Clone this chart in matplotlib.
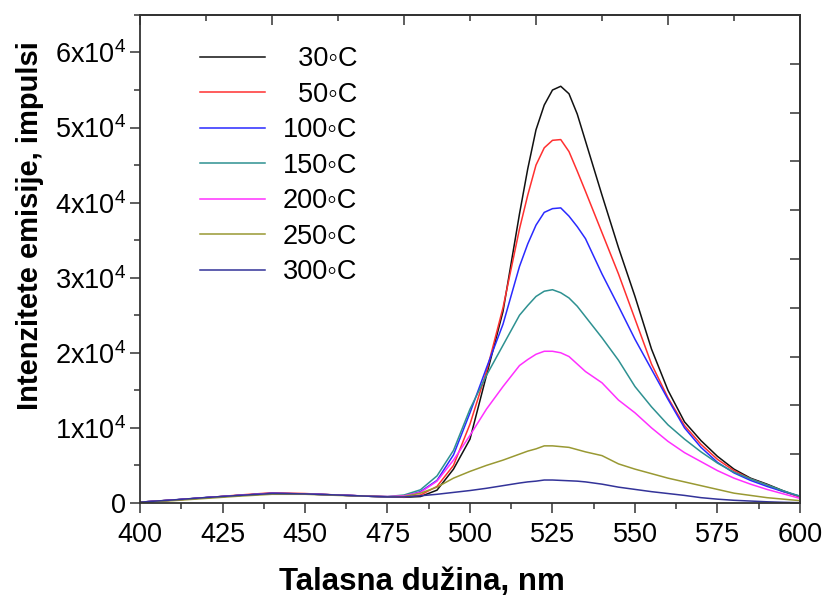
import matplotlib
matplotlib.use("Agg")
import matplotlib.pyplot as plt
from matplotlib.ticker import MultipleLocator, FuncFormatter

plt.rcParams['font.family'] = ['Liberation Sans', 'DejaVu Sans']
plt.rcParams['mathtext.default'] = 'regular'

# wavelength grid, nm
wl = [400, 410, 420, 430, 440, 450, 460, 470, 475, 480, 485, 490, 495, 500,
      505, 510, 515, 517.5, 520, 522.5, 525, 527.5, 530, 532.5, 535, 540,
      545, 550, 555, 560, 565, 570, 575, 580, 585, 590, 595, 600]

t30 = [100, 380, 700, 1000, 1250, 1200, 1050, 880, 820, 750, 850, 1700, 4500, 8500,
       17000, 25500, 38500, 44500, 49700, 53000, 55000, 55500, 54500, 51800, 48200, 41000,
       34000, 27500, 20500, 15000, 10800, 8300, 6200, 4500, 3300, 2500, 1600, 800]
t50 = [100, 380, 700, 1050, 1350, 1250, 1050, 880, 800, 780, 1050, 2200, 5000, 10500,
       17500, 26000, 36500, 41000, 45000, 47300, 48300, 48400, 46800, 44200, 41500, 36000,
       30500, 24500, 18500, 14000, 10300, 7800, 5800, 4300, 3200, 2400, 1500, 800]
t100 = [100, 380, 720, 1000, 1300, 1200, 1050, 880, 820, 900, 1500, 3000, 6400, 12000,
        18000, 23800, 31500, 34500, 37000, 38700, 39200, 39300, 38200, 36800, 35200, 30500,
        26200, 21800, 17800, 13800, 10000, 7400, 5400, 4000, 3000, 2200, 1500, 900]
t150 = [100, 380, 700, 1000, 1250, 1200, 1050, 880, 850, 1050, 1750, 3600, 7000, 12500,
        17000, 21000, 25000, 26300, 27500, 28200, 28400, 28000, 27300, 26200, 24800, 22000,
        19000, 15500, 12800, 10400, 8500, 6800, 5300, 4100, 3200, 2400, 1600, 900]
t200 = [100, 380, 700, 1000, 1250, 1200, 1050, 900, 850, 950, 1400, 2900, 5700, 9000,
        12500, 15500, 18300, 19100, 19800, 20200, 20200, 20000, 19500, 18500, 17500, 16000,
        13700, 12000, 10000, 8200, 6700, 5500, 4300, 3300, 2500, 1800, 1200, 600]
t250 = [80, 300, 600, 900, 1150, 1150, 1000, 880, 820, 850, 1300, 2100, 3300, 4200,
        5000, 5700, 6500, 6900, 7200, 7600, 7600, 7500, 7400, 7100, 6800, 6300,
        5200, 4500, 3900, 3300, 2800, 2300, 1800, 1300, 1000, 700, 500, 300]
t300 = [100, 400, 720, 1000, 1250, 1200, 1050, 880, 800, 800, 950, 1150, 1400, 1650,
        1950, 2300, 2650, 2800, 2900, 3050, 3050, 3000, 2950, 2900, 2800, 2500,
        2100, 1800, 1500, 1250, 1000, 700, 500, 350, 250, 150, 80, 30]

series = [t30, t50, t100, t150, t200, t250, t300]
labels = ['\u200730\u25e6C', '\u200750\u25e6C', '100\u25e6C', '150\u25e6C',
          '200\u25e6C', '250\u25e6C', '300\u25e6C']
colors = ['#111111', '#ff3030', '#2a2aff', '#2e9191', '#ff30ff', '#999933', '#333399']

fig = plt.figure(figsize=(8.26, 5.98), dpi=100)
ax = fig.add_axes([0.1695, 0.159, 0.799, 0.816])

for ys, lab, c in zip(series, labels, colors):
    ax.plot(wl, ys, color=c, lw=1.1, label=lab)

ax.set_xlim(400, 600)
ax.set_ylim(0, 65000)

ax.xaxis.set_major_locator(MultipleLocator(25))
ax.xaxis.set_minor_locator(MultipleLocator(12.5))
ax.yaxis.set_major_locator(MultipleLocator(10000))
ax.yaxis.set_minor_locator(MultipleLocator(5000))


def yfmt(v, pos):
    if v == 0:
        return '0'
    return '%dx10$^{4}$' % round(v / 10000)


ax.yaxis.set_major_formatter(FuncFormatter(yfmt))
ax.tick_params(which='major', direction='out', length=7, width=1.1, labelsize=19.5, color='#333333')
ax.tick_params(which='minor', direction='out', length=4, width=1.1, color='#333333')
ax.tick_params(axis='x', pad=7)
ax.tick_params(axis='y', pad=3)

for s in ax.spines.values():
    s.set_linewidth(1.3)
    s.set_color('#333333')

# top and right axes: ten equal divisions, ticks pointing in
top = ax.secondary_xaxis('top')
top.set_xticks([400, 440, 480, 520, 560, 600])
top.xaxis.set_minor_locator(MultipleLocator(20))
top.tick_params(which='major', direction='in', length=7, width=1.1, labeltop=False, color='#333333')
top.tick_params(which='minor', direction='in', length=4, width=1.1, color='#333333')
top.spines['top'].set_linewidth(1.3)
top.spines['top'].set_color('#333333')

right = ax.secondary_yaxis('right')
right.set_yticks([6500 * i for i in range(11)])
right.tick_params(direction='in', length=7, width=1.1, labelright=False, color='#333333')
right.spines['right'].set_linewidth(1.3)
right.spines['right'].set_color('#333333')

ax.set_xlabel('Talasna dužina, nm', fontsize=22.5, fontweight='bold')
ax.xaxis.set_label_coords(0.427, -0.131)
ax.set_ylabel('Intenzitete emisije, impulsi', fontsize=21, fontweight='bold')
ax.yaxis.set_label_coords(-0.145, 0.568)

ax.legend(loc='upper left', bbox_to_anchor=(0.0909, 0.936), frameon=False, fontsize=19.5,
          handlelength=2.4, handletextpad=0.65, labelspacing=0.35,
          borderpad=0, borderaxespad=0)

fig.savefig('out.png', dpi=100)
